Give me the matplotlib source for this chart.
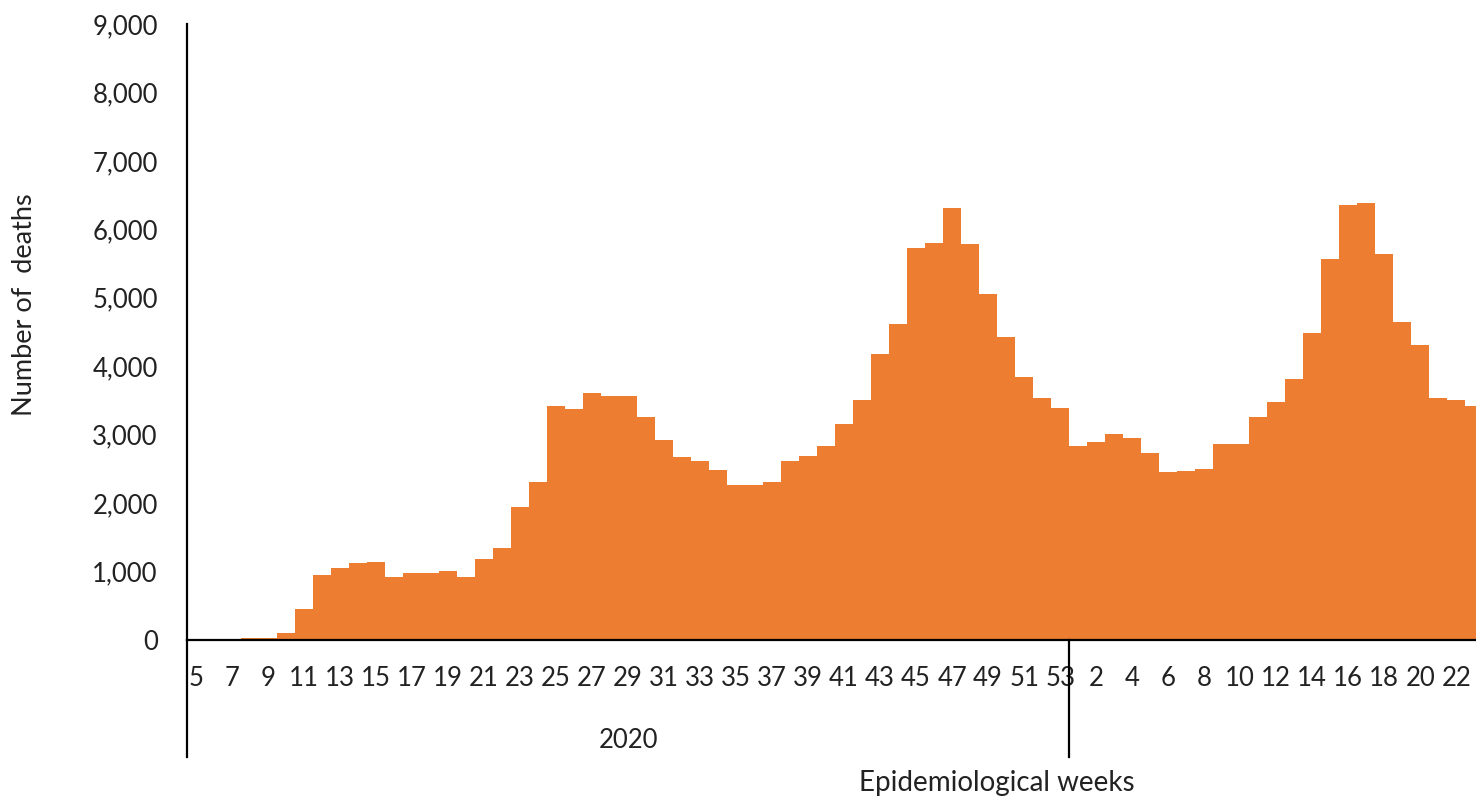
import matplotlib
matplotlib.use("Agg")
import matplotlib.pyplot as plt
from matplotlib.ticker import FuncFormatter

# Weekly deaths, epidemiological weeks 5-53 of 2020 and 1-23 of 2021
weeks_2020 = list(range(5, 54))
weeks_2021 = list(range(1, 24))

deaths_2020 = [0, 0, 0, 25, 30, 100, 450, 950, 1055, 1125, 1145, 925, 985,
               985, 1010, 925, 1180, 1345, 1950, 2315, 3425, 3375, 3615, 3560,
               3560, 3260, 2925, 2675, 2620, 2485, 2260, 2260, 2305, 2615, 2695,
               2840, 3150, 3510, 4175, 4620, 5730, 5800, 6315, 5780, 5060, 4420,
               3840, 3535, 3395]
deaths_2021 = [2840, 2890, 3005, 2945, 2730, 2450, 2475, 2500, 2865, 2865,
               3255, 3470, 3810, 4485, 5565, 6360, 6390, 5640, 4640, 4315,
               3530, 3510, 3420]

years = ["2020", "2021"]

plt.rcParams['font.family'] = ['Lato', 'DejaVu Sans']

weeks = weeks_2020 + weeks_2021
deaths = deaths_2020 + deaths_2021
n2020 = len(weeks_2020)

fig = plt.figure(figsize=(14.76, 8.01), dpi=100)
ax = fig.add_axes([187 / 1476, 1 - 640 / 801, 1 - 187 / 1476, (640 - 24) / 801])

x = [i + 0.5 for i in range(len(deaths))]
ax.bar(x, deaths, width=1.0, color='#ED7D31', linewidth=0)

ax.set_xlim(0, 71.6)
ax.set_ylim(0, 9000)
ax.set_yticks(range(0, 9001, 1000))
ax.yaxis.set_major_formatter(FuncFormatter(lambda v, p: f"{int(v):,}"))

# every other week gets a label
tick_pos = [x[i] for i in range(len(weeks)) if weeks[i] % 2 == (1 if i < n2020 else 0)]
tick_lab = [str(weeks[i]) for i in range(len(weeks)) if weeks[i] % 2 == (1 if i < n2020 else 0)]
ax.set_xticks(tick_pos)
ax.set_xticklabels(tick_lab)

ax.tick_params(axis='both', length=0, labelsize=18.5, colors='#222222')
ax.tick_params(axis='y', pad=21)
ax.tick_params(axis='x', pad=19)

for s in ['top', 'right']:
    ax.spines[s].set_visible(False)
for s in ['left', 'bottom']:
    ax.spines[s].set_color('black')
    ax.spines[s].set_linewidth(1.6)

# category separators extending below the axis
low = -(757 - 640) / (640 - 24)
trans = ax.get_xaxis_transform()
ax.plot([0, 0], [0, low], transform=trans, color='black', lw=1.6, clip_on=False)
ax.plot([n2020, n2020], [0, low], transform=trans, color='black', lw=1.6, clip_on=False)

ax.text(24.5, -0.163, years[0], transform=trans, ha='center', va='center',
        fontsize=18.5, color='#222222')

fig.text(997 / 1476, 1 - 783 / 801, "Epidemiological weeks", ha='center', va='center',
         fontsize=20, color='#222222')
fig.text(25 / 1476, 1 - 305 / 801, "Number of  deaths", rotation=90, ha='center',
         va='center', fontsize=19.5, color='#222222')

fig.savefig("out.png", dpi=100)
